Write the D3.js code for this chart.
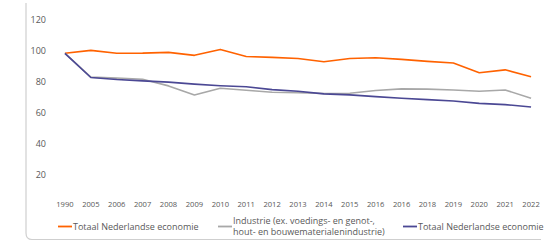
<!DOCTYPE html>
<html>
<head>
<meta charset="utf-8">
<script src="https://cdn.jsdelivr.net/npm/d3@7"></script>
<style>
  html, body { margin: 0; padding: 0; background: #fff; }
  svg { display: block; font-family: "Open Sans", "Noto Sans", sans-serif; }
</style>
</head>
<body>
<svg id="chart" width="559" height="241"></svg>
<script>
// Categories (the source repeats 2016, kept as is)
const years = ["1990", "2005", "2006", "2007", "2008", "2009", "2010", "2011", "2012", "2013",
  "2014", "2015", "2016", "2016", "2018", "2019", "2020", "2021", "2022"];

// Series values (index 1990 = ~100)
const totaalOrange = [98.3, 100.2, 98.3, 98.4, 98.9, 97.0, 100.8, 96.3, 95.7, 95.0,
  92.9, 95.0, 95.5, 94.4, 93.1, 92.1, 85.8, 87.7, 83.2];
const industrie = [98.3, 83.0, 82.4, 81.7, 77.4, 71.6, 75.9, 74.6, 73.3, 73.1,
  72.5, 72.7, 74.4, 75.5, 75.3, 74.8, 74.0, 74.8, 69.5];
const totaalBlue = [98.3, 82.8, 81.5, 80.6, 79.8, 78.5, 77.5, 76.8, 75.0, 74.0,
  72.3, 71.6, 70.5, 69.5, 68.6, 67.7, 66.2, 65.4, 63.9];

const yTicks = [20, 40, 60, 80, 100, 120];

const series = [
  { name: "Totaal Nederlandse economie", values: totaalOrange, color: "#ff6200" },
  { name: "Industrie", values: industrie, color: "#a8a8a8" },
  { name: "Totaal Nederlandse economie", values: totaalBlue, color: "#4b4894" }
];

const svg = d3.select("#chart");
const plot = { left: 52, right: 544, top: 19.5, bottom: 206.5 };

const x = d3.scaleBand().domain(d3.range(years.length)).range([plot.left, plot.right]);
const y = d3.scaleLinear().domain([0, 120]).range([plot.bottom, plot.top]);
const cx = (i) => x(i) + x.bandwidth() / 2;

// card border (left + bottom, rounded corner)
svg.append("path")
  .attr("d", "M26,3 V233 Q26,239.5 32,239.5 H541")
  .attr("fill", "none")
  .attr("stroke", "#cfcfcf")
  .attr("stroke-width", 1.2);

// y-axis labels
svg.append("g")
  .selectAll("text")
  .data(yTicks)
  .enter()
  .append("text")
  .attr("x", 46)
  .attr("y", (d) => y(d))
  .attr("dy", "0.35em")
  .attr("text-anchor", "end")
  .attr("font-size", 9)
  .attr("fill", "#595959")
  .text((d) => d);

// x-axis labels
svg.append("g")
  .selectAll("text")
  .data(years)
  .enter()
  .append("text")
  .attr("x", (d, i) => cx(i))
  .attr("y", 204)
  .attr("dy", "0.35em")
  .attr("text-anchor", "middle")
  .attr("font-size", 7.6)
  .attr("fill", "#595959")
  .text((d) => d);

// lines
const line = d3.line().x((d, i) => cx(i)).y((d) => y(d));

svg.append("g")
  .selectAll("path")
  .data(series)
  .enter()
  .append("path")
  .attr("fill", "none")
  .attr("stroke", (d) => d.color)
  .attr("stroke-width", 1.6)
  .attr("stroke-linejoin", "round")
  .attr("d", (d) => line(d.values));

// legend
const legend = svg.append("g").attr("font-size", 9).attr("fill", "#595959");

const legendItems = [
  { x: 58, y: 226.5, color: "#ff6200", lines: ["Totaal Nederlandse economie"] },
  { x: 218, y: 226.5, color: "#a8a8a8",
    lines: ["Industrie (ex. voedings- en genot-,", "hout- en bouwematerialenindustrie)"] },
  { x: 403, y: 226.5, color: "#4b4894", lines: ["Totaal Nederlandse economie"] }
];

legendItems.forEach((d) => {
  legend.append("line")
    .attr("x1", d.x).attr("x2", d.x + 14)
    .attr("y1", d.y).attr("y2", d.y)
    .attr("stroke", d.color)
    .attr("stroke-width", 1.8);
  const t = legend.append("text")
    .attr("y", d.y - (d.lines.length - 1) * 5.8);
  d.lines.forEach((l, i) => {
    t.append("tspan")
      .attr("x", d.x + 15)
      .attr("dy", i === 0 ? "0.35em" : "1.28em")
      .text(l);
  });
});
</script>
</body>
</html>
